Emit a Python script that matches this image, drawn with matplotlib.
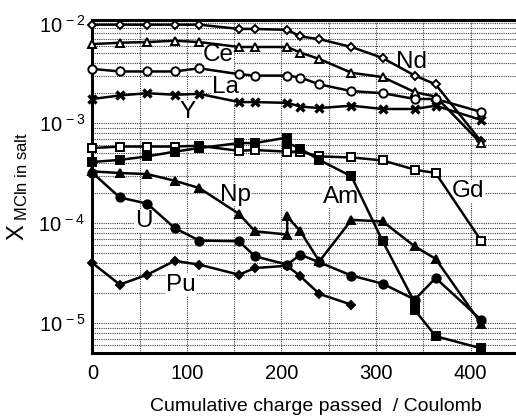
import matplotlib
matplotlib.use('Agg')
import matplotlib.pyplot as plt
from matplotlib.ticker import FixedLocator, NullFormatter

plt.rcParams['font.family'] = ['Liberation Sans', 'DejaVu Sans']
plt.rcParams['mathtext.fontset'] = 'custom'
plt.rcParams['mathtext.rm'] = 'Liberation Sans'
plt.rcParams['mathtext.it'] = 'Liberation Sans'

# Data
x_main = [0, 29, 58, 87, 113, 155, 172, 206, 220, 240, 274, 307, 341, 363, 411]
nd = [9.7e-3, 9.7e-3, 9.7e-3, 9.7e-3, 9.7e-3, 8.8e-3, 8.8e-3, 8.6e-3, 7.4e-3,
      6.95e-3, 5.8e-3, 4.5e-3, 3.0e-3, 2.45e-3, 6.6e-4]
ce = [6.2e-3, 6.4e-3, 6.5e-3, 6.7e-3, 6.5e-3, 5.8e-3, 5.8e-3, 5.8e-3, 5.1e-3,
      4.4e-3, 3.2e-3, 2.9e-3, 2.05e-3, 1.85e-3, 6.3e-4]
la = [3.5e-3, 3.3e-3, 3.3e-3, 3.3e-3, 3.55e-3, 3.1e-3, 3.0e-3, 3.0e-3, 2.87e-3,
      2.45e-3, 2.1e-3, 2.0e-3, 1.75e-3, 1.75e-3, 1.3e-3]
yt = [1.75e-3, 1.9e-3, 2.0e-3, 1.93e-3, 1.97e-3, 1.63e-3, 1.63e-3, 1.6e-3, 1.47e-3,
      1.42e-3, 1.5e-3, 1.39e-3, 1.39e-3, 1.5e-3, 1.08e-3]
gd = [5.65e-4, 5.85e-4, 5.85e-4, 5.85e-4, 5.95e-4, 5.3e-4, 5.4e-4, 5.2e-4, 5.2e-4,
      4.66e-4, 4.55e-4, 4.25e-4, 3.43e-4, 3.18e-4, 6.7e-5]
u = [3.2e-4, 1.81e-4, 1.57e-4, 8.95e-5, 6.7e-5, 6.6e-5, 4.66e-5, 3.85e-5, 4.84e-5,
     4.06e-5, 2.99e-5, 2.48e-5, 1.72e-5, 2.83e-5, 1.08e-5]

x_am = [0, 29, 58, 87, 113, 155, 172, 206, 206, 220, 240, 274, 307, 341, 341, 363, 411]
am = [4.1e-4, 4.3e-4, 4.66e-4, 5.2e-4, 5.65e-4, 6.34e-4, 6.34e-4, 7.2e-4, 6.4e-4,
      5.56e-4, 4.3e-4, 2.94e-4, 6.6e-5, 1.6e-5, 1.35e-5, 7.4e-6, 5.6e-6]

x_np = [0, 29, 58, 87, 113, 155, 172, 206, 206, 220, 240, 274, 307, 341, 363, 411]
np_ = [3.3e-4, 3.18e-4, 3.1e-4, 2.66e-4, 2.25e-4, 1.24e-4, 8.3e-5, 7.7e-5, 1.17e-4,
       8.3e-5, 4.15e-5, 1.08e-4, 1.04e-4, 5.86e-5, 4.4e-5, 9.9e-6]

x_pu = [0, 29, 58, 87, 113, 155, 172, 206, 220, 240, 274]
pu = [4.0e-5, 2.43e-5, 3.05e-5, 4.2e-5, 3.85e-5, 3.05e-5, 3.56e-5, 3.75e-5, 2.94e-5,
      1.96e-5, 1.53e-5]

# Build figure
fig = plt.figure(figsize=(5.16, 4.17), dpi=100)
ax = fig.add_axes([0.179, 0.153, 0.821, 0.799])

# Plot series: (x, y, marker, filled, size)
series = [
    (x_main, nd, 'D', False, 4.5),
    (x_main, ce, '^', False, 6),
    (x_main, la, 'o', False, 6),
    (x_main, yt, 'x', True, 6),
    (x_main, gd, 's', False, 5.5),
    (x_am, am, 's', True, 5.5),
    (x_np, np_, '^', True, 6),
    (x_main, u, 'o', True, 6),
    (x_pu, pu, 'D', True, 4.5),
]
for xs, ys, m, filled, ms in series:
    ax.plot(xs, ys, color='black', linewidth=1.8, marker=m, markersize=ms,
            markerfacecolor='black' if filled else 'white',
            markeredgecolor='black', markeredgewidth=2.4 if m == 'x' else 1.4,
            zorder=4, clip_on=False)

ax.set_yscale('log')
ax.set_xlim(0, 448)
ax.set_ylim(5e-6, 1.08e-2)

# Ticks
ax.set_xticks([0, 100, 200, 300, 400])
ax.xaxis.set_minor_locator(FixedLocator([50, 150, 250, 350]))
majors = [1e-5, 1e-4, 1e-3, 1e-2]
ax.yaxis.set_major_locator(FixedLocator(majors))
ax.set_yticklabels([r'$\mathregular{10^{\,-5}}$', r'$\mathregular{10^{\,-4}}$',
                    r'$\mathregular{10^{\,-3}}$', r'$\mathregular{10^{\,-2}}$'])
minors = [k * 10.0**e for e in (-6, -5, -4, -3) for k in range(2, 10)]
ax.yaxis.set_minor_locator(FixedLocator(minors))
ax.yaxis.set_minor_formatter(NullFormatter())
ax.tick_params(which='both', length=0, labelsize=14.5)
ax.tick_params(axis='y', pad=5)
ax.tick_params(axis='x', pad=8)

# Dotted grid
ax.set_axisbelow(True)
ax.grid(which='both', color='0.25', linestyle=(0, (1, 1)), linewidth=0.8)

# Spines
ax.spines['right'].set_visible(False)
for s in ('left', 'bottom', 'top'):
    ax.spines[s].set_linewidth(2.2)

# Labels
ax.set_xlabel('Cumulative charge passed  / Coulomb', fontsize=14)
ax.xaxis.set_label_coords(0.528, -0.135)
ax.set_ylabel(r'$\mathregular{X_{\ MCln\ in\ salt}}$', fontsize=17)
ax.yaxis.set_label_coords(-0.148, 0.50)

# Element names
names = ['Nd', 'Ce', 'La', 'Y', 'Np', 'U', 'Pu', 'Am', 'Gd']
name_x = [337, 133, 141, 101, 151, 54, 94, 263, 397]
name_y = [4.15e-3, 4.84e-3, 2.33e-3, 1.31e-3, 1.93e-4, 1.04e-4, 2.43e-5, 1.85e-4, 2.08e-4]
for t, tx, ty in zip(names, name_x, name_y):
    ax.text(tx, ty, t, fontsize=17.5, ha='center', va='center', zorder=3,
            bbox=dict(facecolor='white', edgecolor='none', pad=0.5))

fig.savefig('out.png', dpi=100)
